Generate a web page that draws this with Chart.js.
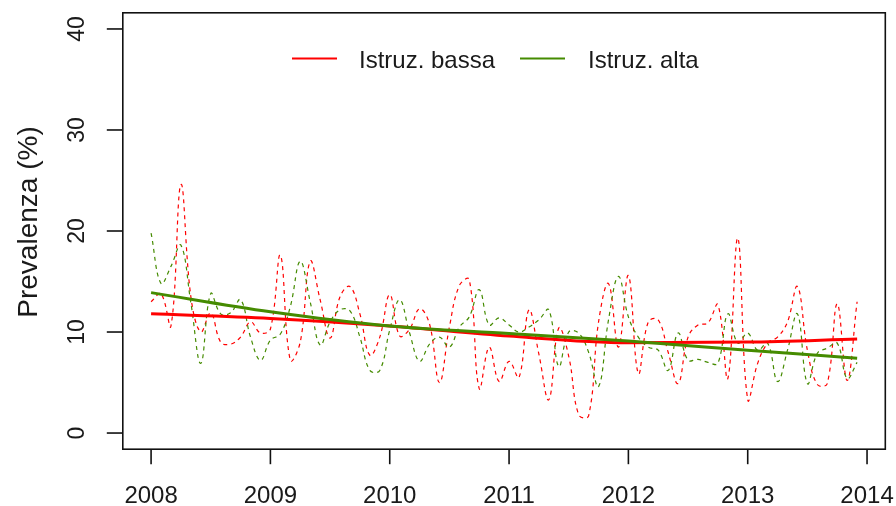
<!DOCTYPE html>
<html>
<head>
<meta charset="utf-8">
<script src="https://cdn.jsdelivr.net/npm/chart.js@4.4.1/dist/chart.umd.min.js"></script>
<style>
  html, body { margin: 0; padding: 0; background: #fff; }
  #wrap { width: 896px; height: 506px; }
</style>
</head>
<body>
<div id="wrap"><canvas id="prevChart" width="896" height="506"></canvas></div>
<script>
// Monthly prevalence (%) from Jan 2008 to Dec 2013
const startYear = 2008;
const bassa = [
  13.0, 13.8, 10.6, 24.6, 13.5, 10.0, 11.9, 9.0, 8.8, 9.5, 11.0, 9.9,
  10.3, 17.6, 7.2, 9.0, 17.0, 13.2, 9.4, 13.5, 14.5, 11.8, 7.7, 9.5,
  13.7, 9.6, 10.3, 12.3, 10.8, 5.0, 10.5, 14.6, 15.2, 4.4, 8.5, 5.1,
  7.1, 5.5, 12.2, 7.8, 3.3, 10.4, 7.6, 1.8, 1.7, 11.0, 14.8, 8.5,
  15.6, 5.9, 11.0, 11.2, 8.0, 4.9, 9.5, 10.7, 10.9, 12.7, 5.4, 19.3,
  3.3, 6.9, 8.9, 9.5, 11.0, 14.5, 8.2, 4.8, 4.9, 12.8, 5.2, 13.0
];
const alta = [
  19.8, 14.8, 16.5, 18.6, 12.9, 6.9, 13.8, 11.8, 11.9, 13.2, 9.5, 7.2,
  9.2, 9.8, 12.5, 17.0, 13.0, 8.7, 11.0, 12.2, 12.1, 9.5, 6.2, 6.2,
  10.2, 13.2, 9.9, 7.1, 8.8, 9.5, 8.5, 10.5, 11.5, 14.2, 10.7, 11.4,
  10.7, 10.0, 10.5, 11.2, 12.2, 6.6, 10.0, 9.9, 8.0, 4.6, 11.2, 15.5,
  11.5, 9.5, 8.5, 8.2, 6.2, 9.9, 7.2, 7.3, 7.0, 6.9, 11.8, 8.9,
  9.9, 8.2, 8.9, 5.1, 8.2, 11.8, 4.9, 7.9, 8.4, 8.9, 5.4, 7.0
];

// Smoothed trend, read at yearly knots
const trendYears = [2008, 2009, 2010, 2011, 2012, 2013, 2013.917];
const trendBassa = [11.8, 11.35, 10.6, 9.6, 8.95, 9.0, 9.3];
const trendAlta = [13.9, 12.0, 10.6, 9.85, 9.1, 8.2, 7.4];

const xTicks = [2008, 2009, 2010, 2011, 2012, 2013, 2014];
const yTicks = [0, 10, 20, 30, 40];
const seriesNames = ["Istruz. bassa", "Istruz. alta"];
const yTitle = "Prevalenza (%)";

const RED = "#ff0000";
const GREEN = "#458b00";
const FONT = "'Liberation Sans', Arial, sans-serif";
const INK = "#1a1a1a";

const monthly = (vals) => vals.map((v, i) => ({ x: startYear + i / 12, y: v }));
const knots = (vals) => vals.map((v, i) => ({ x: trendYears[i], y: v }));

// Box, ticks, labels and legend drawn in base-graphics style
const frame = {
  id: "frame",
  afterDraw(chart) {
    const { ctx, chartArea: a, scales } = chart;
    const sx = scales.x, sy = scales.y;
    ctx.save();
    ctx.strokeStyle = "#111";
    ctx.lineWidth = 1.6;
    ctx.strokeRect(a.left, a.top, a.right - a.left, a.bottom - a.top);

    ctx.fillStyle = INK;
    // x axis
    ctx.font = "24px " + FONT;
    ctx.textAlign = "center";
    ctx.textBaseline = "alphabetic";
    xTicks.forEach(t => {
      const px = sx.getPixelForValue(t);
      ctx.beginPath();
      ctx.moveTo(px, a.bottom);
      ctx.lineTo(px, a.bottom + 15);
      ctx.stroke();
      ctx.fillText(String(t), px, 503);
    });
    // y axis, labels parallel to the axis
    ctx.font = "23px " + FONT;
    yTicks.forEach(t => {
      const py = sy.getPixelForValue(t);
      ctx.beginPath();
      ctx.moveTo(a.left - 16, py);
      ctx.lineTo(a.left, py);
      ctx.stroke();
      ctx.save();
      ctx.translate(84, py);
      ctx.rotate(-Math.PI / 2);
      ctx.fillText(String(t), 0, 0);
      ctx.restore();
    });
    ctx.save();
    ctx.font = "28px " + FONT;
    ctx.translate(37, 222);
    ctx.rotate(-Math.PI / 2);
    ctx.fillText(yTitle, 0, 0);
    ctx.restore();

    // legend
    ctx.font = "24px " + FONT;
    ctx.textAlign = "left";
    const items = [
      { name: seriesNames[0], color: RED, x0: 292, tx: 359 },
      { name: seriesNames[1], color: GREEN, x0: 520, tx: 588 }
    ];
    items.forEach(it => {
      ctx.strokeStyle = it.color;
      ctx.lineWidth = 2;
      ctx.beginPath();
      ctx.moveTo(it.x0, 58.5);
      ctx.lineTo(it.x0 + 45, 58.5);
      ctx.stroke();
      ctx.fillStyle = INK;
      ctx.fillText(it.name, it.tx, 67.5);
    });
    ctx.restore();
  }
};

const ctx = document.getElementById("prevChart").getContext("2d");
new Chart(ctx, {
  type: "line",
  data: {
    datasets: [
      {
        label: seriesNames[0] + " (mensile)",
        data: monthly(bassa),
        borderColor: RED,
        borderWidth: 1.2,
        borderDash: [4, 4],
        pointRadius: 0,
        tension: 0.4,
        order: 4
      },
      {
        label: seriesNames[1] + " (mensile)",
        data: monthly(alta),
        borderColor: GREEN,
        borderWidth: 1.2,
        borderDash: [4, 4],
        pointRadius: 0,
        tension: 0.4,
        order: 3
      },
      {
        label: seriesNames[0],
        data: knots(trendBassa),
        borderColor: RED,
        borderWidth: 3,
        pointRadius: 0,
        cubicInterpolationMode: "monotone",
        order: 2
      },
      {
        label: seriesNames[1],
        data: knots(trendAlta),
        borderColor: GREEN,
        borderWidth: 3,
        pointRadius: 0,
        cubicInterpolationMode: "monotone",
        order: 1
      }
    ]
  },
  options: {
    responsive: false,
    animation: false,
    devicePixelRatio: 1,
    layout: { padding: { left: 122.8, right: 10.7, top: 12.8, bottom: 56.8 } },
    plugins: { legend: { display: false }, tooltip: { enabled: false } },
    scales: {
      x: { type: "linear", min: 2007.763, max: 2014.153, display: false },
      y: { min: -1.6, max: 41.6, display: false }
    }
  },
  plugins: [frame]
});
</script>
</body>
</html>
